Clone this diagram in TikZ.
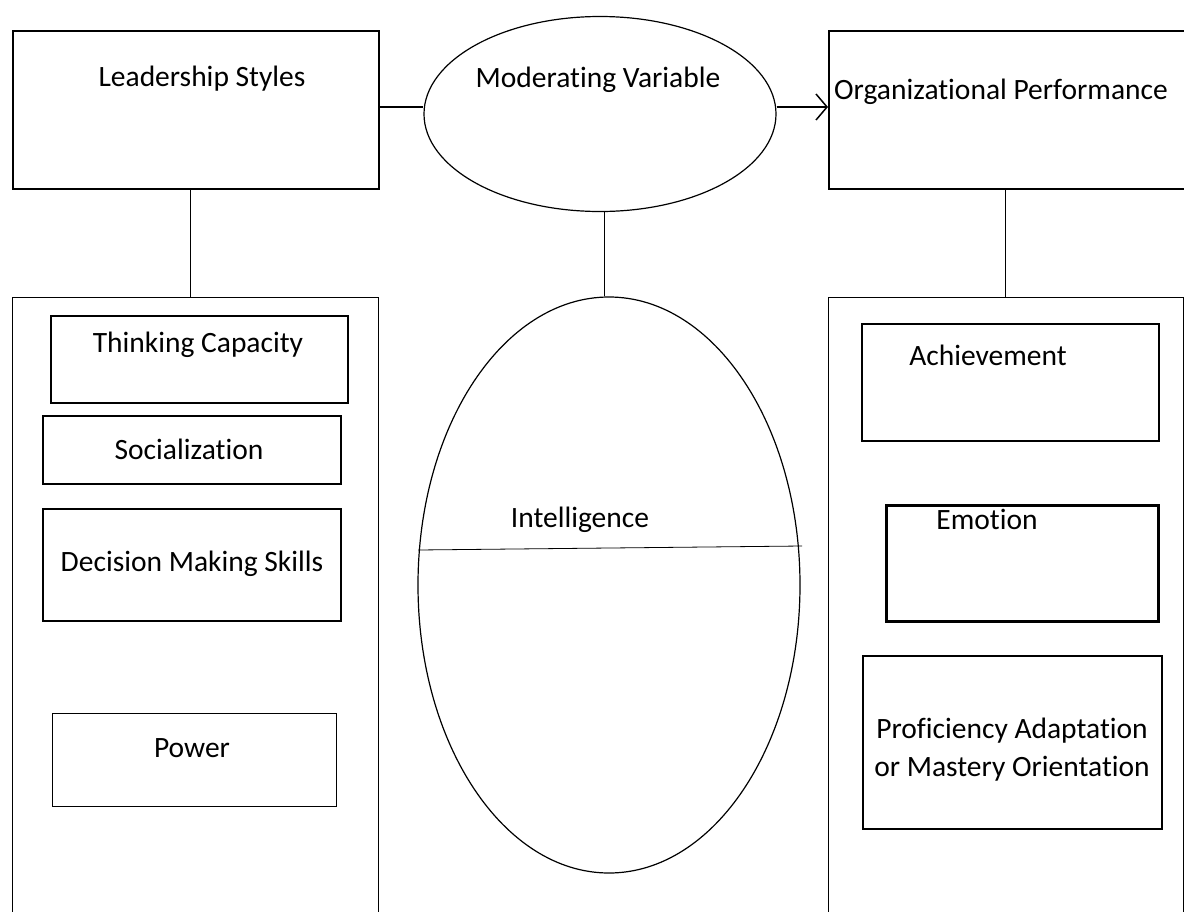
\documentclass[tikz,border=0pt]{standalone}
\usepackage{fontspec}
\setmainfont{Carlito}[Ligatures={NoCommon}]
\usetikzlibrary{shapes.geometric,arrows.meta}

\tikzset{
  box/.style={draw, rectangle, line width=1.5pt, anchor=north west, inner sep=0pt},
  panel/.style={draw, rectangle, line width=0.8pt, anchor=north west, inner sep=0pt},
  oval/.style={draw, ellipse, line width=1.2pt, inner sep=0pt},
  lbl/.style={font=\fontsize{29.5}{38}\selectfont, inner sep=0pt, align=center}
}

\begin{document}
\begin{tikzpicture}[x=1pt,y=-1pt]
  \useasboundingbox (0,0) rectangle (1184,911);
  % top row
  \node[box, minimum width=366pt, minimum height=158pt] (lead) at (12,30) {};
  \node[oval, minimum width=352pt, minimum height=195pt] (mod) at (600,114) {};
  \node[box, minimum width=356pt, minimum height=158pt] (org) at (828,30) {};
  % panels, open at the bottom edge
  \node[panel, minimum width=366pt, minimum height=640pt] (lpanel) at (12,297) {};
  \node[panel, minimum width=355pt, minimum height=640pt] (rpanel) at (828,297) {};
  \node[oval, minimum width=382pt, minimum height=576pt] (intel) at (609,585) {};
  % left items
  \node[box, minimum width=297pt, minimum height=87pt] (think) at (50,315) {};
  \node[box, minimum width=298pt, minimum height=68pt] (social) at (42,415) {};
  \node[box, minimum width=298pt, minimum height=112pt] (decide) at (42,508) {};
  \node[box, line width=1pt, minimum width=284pt, minimum height=93pt] (power) at (52,713) {};
  % right items
  \node[box, minimum width=297pt, minimum height=117pt] (achieve) at (861,323) {};
  \node[box, line width=3pt, minimum width=272pt, minimum height=116pt] (emotion) at (885,504) {};
  \node[box, minimum width=299pt, minimum height=173pt] (profic) at (862,655) {};
  % texts
  \node[lbl] (leadtxt) at (202,79) {Leadership Styles};
  \node[lbl] (modtxt) at (598,80) {Moderating Variable};
  \node[lbl] (orgtxt) at (1001,92) {Organizational Performance};
  \node[lbl] (thinktxt) at (198,345) {Thinking Capacity};
  \node[lbl] (socialtxt) at (189,449) {Socialization};
  \node[lbl] (decidetxt) at (192,564) {Decision Making Skills};
  \node[lbl] (powertxt) at (192,748) {Power};
  \node[lbl] (inteltxt) at (580,520) {Intelligence};
  \node[lbl] (achievetxt) at (988,355) {Achievement};
  \node[lbl] (emotiontxt) at (987,519) {Emotion};
  \node[lbl] (proficTxt) at (1012,750) {Proficiency Adaptation\\or Mastery Orientation};
  % connectors
  \coordinate (cutL) at (418,550);
  \coordinate (cutR) at (802,546);
  \begin{scope}[line width=0.8pt]
    \draw[line width=2pt] (lead.east |- 0,107) -- (mod.west |- 0,107);
    \draw[line width=2pt, -{Straight Barb[length=11pt,width=26pt,line width=1.5pt]}] (mod.east |- 0,107) -- (org.west |- 0,107);
    \draw (lead.south -| 190,0) -- (lpanel.north -| 190,0);
    \draw (mod.south -| 604,0) -- (intel.north -| 604,0);
    \draw (org.south -| 1005,0) -- (rpanel.north -| 1005,0);
    \draw (cutL) -- (cutR);
  \end{scope}
\end{tikzpicture}
\end{document}
